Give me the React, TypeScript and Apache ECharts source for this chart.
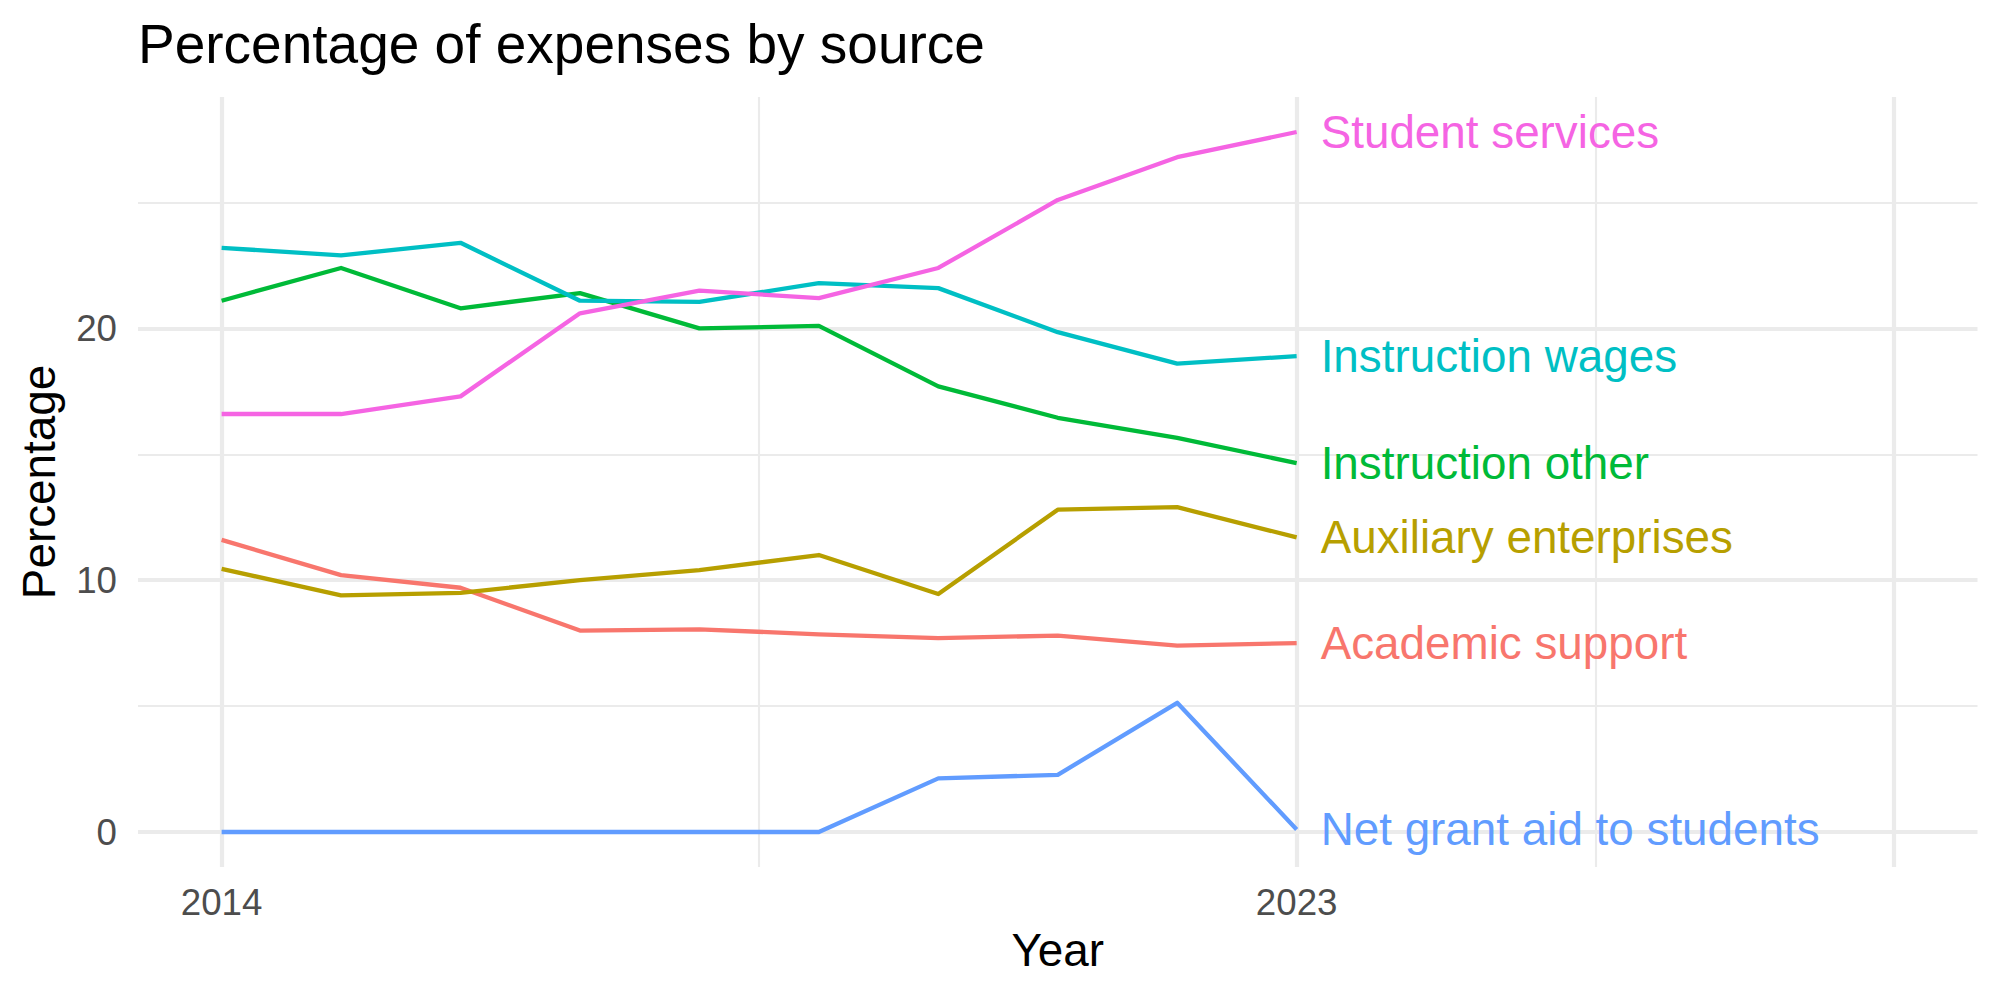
import React, { useEffect, useRef } from "react";
import * as echarts from "echarts";

// Expense shares by source, 2014–2023 (percent)
const years = [2014, 2015, 2016, 2017, 2018, 2019, 2020, 2021, 2022, 2023];

const sourceNames = [
  "Academic support",
  "Auxiliary enterprises",
  "Instruction other",
  "Instruction wages",
  "Net grant aid to students",
  "Student services",
];

const academicSupport = [11.6, 10.2, 9.7, 8.0, 8.05, 7.85, 7.7, 7.8, 7.4, 7.5];
const auxiliaryEnterprises = [10.45, 9.4, 9.5, 10.0, 10.4, 11.0, 9.45, 12.8, 12.9, 11.7];
const instructionOther = [21.1, 22.4, 20.8, 21.4, 20.0, 20.1, 17.7, 16.45, 15.65, 14.65];
const instructionWages = [23.2, 22.9, 23.4, 21.1, 21.05, 21.8, 21.6, 19.85, 18.6, 18.9];
const netGrantAid = [0, 0, 0, 0, 0, 0, 2.13, 2.27, 5.13, 0.1];
const studentServices = [16.6, 16.6, 17.3, 20.6, 21.5, 21.2, 22.4, 25.1, 26.8, 27.8];

const sourceValues = [
  academicSupport,
  auxiliaryEnterprises,
  instructionOther,
  instructionWages,
  netGrantAid,
  studentServices,
];

// ggplot-style hue palette
const sourceColors = ["#F8766D", "#B79F00", "#00BA38", "#00BFC4", "#619CFF", "#F564E3"];

// Axis breaks
const xLimits = [2014, 2028];
const xMajorBreaks = [2014, 2023, 2028];
const xMinorBreaks = [2018.5, 2025.5];
const xTickLabels = [2014, 2023];
const yMajorBreaks = [0, 10, 20];
const yMinorBreaks = [5, 15, 25];
const yTickLabels = [0, 10, 20];

const FONT = "Liberation Sans";
const GRID_COLOR = "#EBEBEB";
const MAJOR_W = 4.2;
const MINOR_W = 2.1;

export default function App() {
  const ref = useRef<HTMLDivElement>(null);

  useEffect(() => {
    if (!ref.current) return;
    const chart = echarts.init(ref.current, undefined, { renderer: "svg" });

    // 5% expansion on both axes
    const xSpan = xLimits[1] - xLimits[0];
    const xMin = xLimits[0] - 0.05 * xSpan;
    const xMax = xLimits[1] + 0.05 * xSpan;
    const allVals = sourceValues.flat();
    const yLo = Math.min(...allVals);
    const yHi = Math.max(...allVals);
    const ySpan = yHi - yLo;
    const yMin = yLo - 0.05 * ySpan;
    const yMax = yHi + 0.05 * ySpan;

    const gridLines = [
      ...yMinorBreaks.map((v) => ({ yAxis: v, lineStyle: { width: MINOR_W } })),
      ...xMinorBreaks.map((v) => ({ xAxis: v, lineStyle: { width: MINOR_W } })),
      ...yMajorBreaks.map((v) => ({ yAxis: v, lineStyle: { width: MAJOR_W } })),
      ...xMajorBreaks.map((v) => ({ xAxis: v, lineStyle: { width: MAJOR_W } })),
    ];

    const lineSeries = sourceNames.map((name, i) => ({
      type: "line",
      name,
      z: 3,
      data: years.map((yr, k) => [yr, sourceValues[i][k]]),
      showSymbol: false,
      symbol: "none",
      silent: true,
      lineStyle: { color: sourceColors[i], width: 4.3, join: "round", cap: "butt" },
      itemStyle: { color: sourceColors[i] },
      endLabel: {
        show: true,
        formatter: name,
        color: sourceColors[i],
        fontFamily: FONT,
        fontSize: 45.8,
        distance: 24,
        align: "left",
        verticalAlign: "middle",
      },
    }));

    chart.setOption({
      animation: false,
      backgroundColor: "#FFFFFF",
      textStyle: { fontFamily: FONT },
      title: {
        text: "Percentage of expenses by source",
        left: 138,
        top: 16,
        padding: 0,
        textStyle: {
          fontFamily: FONT,
          fontSize: 55,
          fontWeight: "normal",
          color: "#000000",
        },
      },
      grid: { left: 138, right: 22.5, top: 97, bottom: 133, containLabel: false },
      xAxis: {
        type: "value",
        min: xMin,
        max: xMax,
        name: "Year",
        nameLocation: "middle",
        nameGap: 83,
        nameTextStyle: {
          fontFamily: FONT,
          fontSize: 45.8,
          color: "#000000",
          verticalAlign: "middle",
        },
        axisLine: { show: false },
        axisTick: { show: false },
        splitLine: { show: false },
        axisLabel: {
          customValues: xTickLabels,
          formatter: (v: number) => String(v),
          fontFamily: FONT,
          fontSize: 36.7,
          color: "#4D4D4D",
          margin: 17,
        },
      },
      yAxis: {
        type: "value",
        min: yMin,
        max: yMax,
        name: "Percentage",
        nameLocation: "middle",
        nameGap: 99,
        nameRotate: 90,
        nameTextStyle: {
          fontFamily: FONT,
          fontSize: 45.8,
          color: "#000000",
          verticalAlign: "middle",
        },
        axisLine: { show: false },
        axisTick: { show: false },
        splitLine: { show: false },
        axisLabel: {
          customValues: yTickLabels,
          formatter: (v: number) => String(v),
          fontFamily: FONT,
          fontSize: 36.7,
          color: "#4D4D4D",
          margin: 21,
        },
      },
      series: [
        {
          type: "line",
          name: "grid",
          data: [],
          z: 0,
          silent: true,
          markLine: {
            z: 0,
            silent: true,
            symbol: ["none", "none"],
            label: { show: false },
            emphasis: { disabled: true },
            lineStyle: { color: GRID_COLOR, type: "solid" },
            data: gridLines,
          },
        },
        ...lineSeries,
      ],
    });

    return () => chart.dispose();
  }, []);

  return (
    <div
      ref={ref}
      style={{ position: "absolute", left: 0, top: 0, width: 2000, height: 1000, background: "#FFFFFF" }}
    />
  );
}
